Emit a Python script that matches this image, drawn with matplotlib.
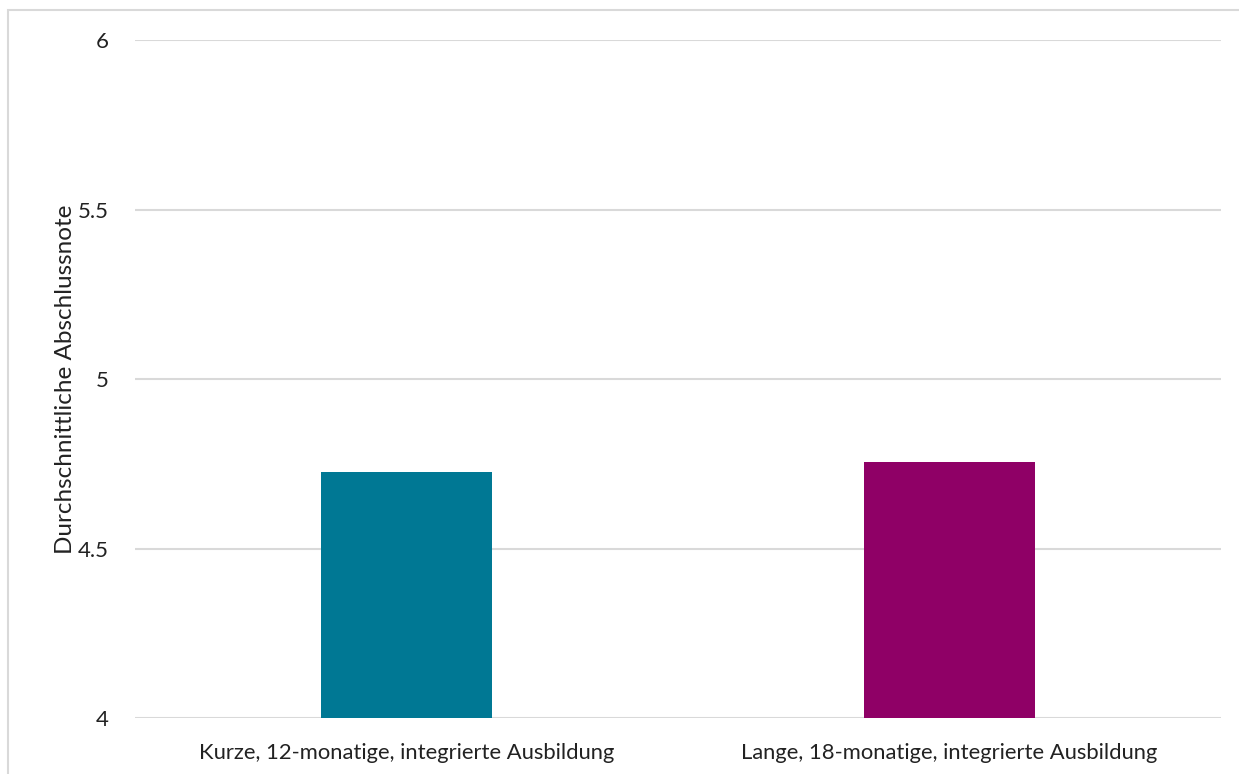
import matplotlib
matplotlib.use("Agg")
import matplotlib.pyplot as plt
from matplotlib.patches import Rectangle

categories = ["Kurze, 12-monatige, integrierte Ausbildung",
              "Lange, 18-monatige, integrierte Ausbildung"]
values = [4.725, 4.755]
colors = ["#007894", "#8F0066"]
yticks = [4, 4.5, 5, 5.5, 6]
yticklabels = ["4", "4.5", "5", "5.5", "6"]
ylabel = "Durchschnittliche Abschlussnote"

plt.rcParams['font.family'] = ['Lato', 'DejaVu Sans']

W, H = 1239, 774
fig = plt.figure(figsize=(W/100, H/100), dpi=100)
fig.patches.append(Rectangle((8/W, -0.1), 1.2, 1 - 10/H + 0.1, transform=fig.transFigure,
                             fill=False, edgecolor="#d9d9d9", linewidth=1.5))
ax = fig.add_axes([135/W, 1 - 718.3/H, (1221-135)/W, (718.3-40)/H])

x = list(range(len(categories)))
ax.bar(x, values, width=0.314, color=colors, zorder=3)
ax.set_xlim(-0.5, 1.5)
ax.set_ylim(4, 6)
ax.set_yticks(yticks)
ax.set_yticklabels(yticklabels, fontsize=16, color="#222222")
ax.set_xticks(x)
ax.set_xticklabels(categories, fontsize=15.8, color="#222222")
ax.tick_params(axis='both', length=0)
ax.tick_params(axis='y', pad=19)
ax.tick_params(axis='x', pad=18)
ax.grid(axis='y', color="#d9d9d9", linewidth=1.5, zorder=0)
for s in ax.spines.values():
    s.set_visible(False)
ax.set_ylabel(ylabel, fontsize=17.5, color="#222222", labelpad=1)

fig.savefig("out.png", dpi=100)
